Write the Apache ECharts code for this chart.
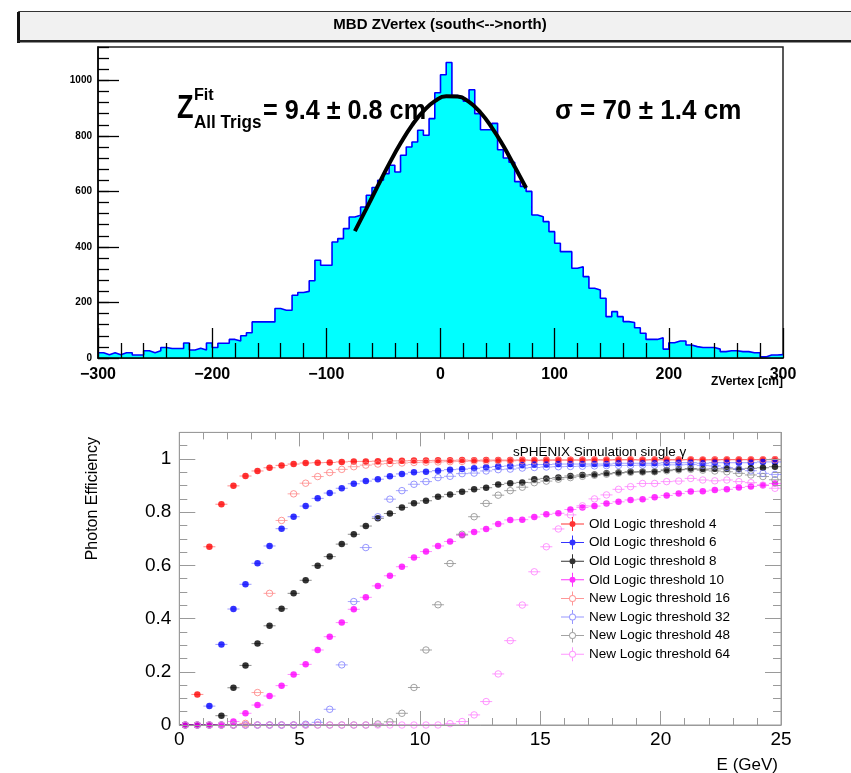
<!DOCTYPE html>
<html><head><meta charset="utf-8">
<script src="https://cdn.jsdelivr.net/npm/echarts@6/dist/echarts.min.js"></script>
<style>html,body{margin:0;padding:0;background:#fff}#c{width:851px;height:773px}</style>
</head><body><div id="c"></div>
<script>
// ---------------- DATA ----------------
// Top panel: MBD z-vertex histogram (5 cm bins from -300 to 300)
const zBinMin = -300;
const zBinWidth = 5;
const zCounts = [19,12,19,12,19,19,11,11,26,19, 26,38,34,34,34,54,29,35,29,54,
  38,53,53,67,61,80,91,130,130,130, 130,178,172,172,226,236,240,278,352,334,
  334,418,430,466,508,514,544,586,614,640, 664,694,670,730,760,778,820,802,862,955,
  1020,1064,945,940,925,966,880,822,822,845, 750,720,705,635,618,600,515,509,491,455,
  413,383,383,323,329,293,251,245,215,149, 167,149,131,128,109,89,67,67,73,32,
  55,61,61,47,41,38,38,38,32,23, 26,26,23,23,19,19,4,11,11,12];
// Gaussian fit curve
const fitZ = [-75,-65,-55,-45,-35,-25,-15,-5,5,15,25,35,45,55,65,75];
const fitCounts = [457,537,619,699,773,838,889,925,943,942,922,884,830,764,689,612];

// Bottom panel: photon efficiency vs E
const eCenters = [0.25,0.75,1.25,1.75,2.25,2.75,3.25,3.75,4.25,4.75,5.25,5.75,6.25,6.75,7.25,7.75,8.25,8.75,9.25,9.75,
  10.25,10.75,11.25,11.75,12.25,12.75,13.25,13.75,14.25,14.75,15.25,15.75,16.25,16.75,17.25,17.75,18.25,18.75,19.25,19.75,
  20.25,20.75,21.25,21.75,22.25,22.75,23.25,23.75,24.25,24.75];
const eHalfWidth = 0.25;
const seriesNames = ['Old Logic threshold 4','Old Logic threshold 6','Old Logic threshold 8','Old Logic threshold 10',
  'New Logic threshold 16','New Logic threshold 32','New Logic threshold 48','New Logic threshold 64'];
const old4 = [0,0.115,0.670,0.830,0.899,0.936,0.955,0.967,0.976,0.981, 0.985,0.986,0.987,0.989,0.991,0.991,0.992,0.993,0.993,0.994,
  0.994,0.995,0.995,0.996,0.995,0.996,0.996,0.996,0.997,0.996, 0.997,0.997,0.997,0.997,0.998,0.997,0.998,0.998,0.997,0.998,
  0.998,0.998,0.998,0.997,0.998,0.998,0.998,0.998,0.998,0.999];
const old6 = [0,0,0.071,0.303,0.436,0.529,0.608,0.673,0.738,0.783, 0.823,0.852,0.872,0.890,0.907,0.917,0.924,0.935,0.944,0.950,
  0.952,0.956,0.960,0.962,0.965,0.969,0.972,0.974,0.977,0.979, 0.979,0.981,0.981,0.981,0.981,0.981,0.984,0.984,0.984,0.984,
  0.986,0.986,0.986,0.984,0.986,0.986,0.986,0.986,0.989,0.989];
const old8 = [0,0,0,0.035,0.140,0.224,0.306,0.373,0.437,0.495, 0.544,0.599,0.633,0.680,0.717,0.748,0.777,0.795,0.818,0.834,
  0.843,0.858,0.867,0.877,0.886,0.892,0.904,0.909,0.912,0.924, 0.927,0.930,0.936,0.940,0.942,0.946,0.949,0.952,0.952,0.952,
  0.959,0.961,0.964,0.962,0.963,0.963,0.962,0.965,0.967,0.971];
const old10 = [0,0,0,0,0.013,0.044,0.075,0.109,0.148,0.190, 0.228,0.282,0.332,0.385,0.435,0.480,0.523,0.561,0.595,0.630,
  0.652,0.673,0.690,0.713,0.726,0.737,0.756,0.771,0.772,0.782, 0.792,0.796,0.810,0.818,0.823,0.833,0.839,0.846,0.849,0.856,
  0.863,0.870,0.878,0.879,0.883,0.886,0.893,0.897,0.901,0.908];
const new16 = [0,0,0,0,0,0.006,0.122,0.495,0.769,0.869, 0.909,0.934,0.949,0.961,0.971,0.977,0.981,0.983,0.985,0.987,
  0.988,0.989,0.990,0.991,0.992,0.992,0.993,0.993,0.994,0.994, 0.994,0.995,0.995,0.995,0.995,0.996,0.996,0.996,0.996,0.996,
  0.996,0.996,0.997,0.997,0.996,0.997,0.997,0.997,0.997,0.997];
const new32 = [0,0,0,0,0,0,0,0,0,0, 0.003,0.010,0.059,0.226,0.464,0.667,0.783,0.849,0.881,0.905,
  0.915,0.930,0.935,0.945,0.947,0.955,0.960,0.962,0.966,0.968, 0.970,0.971,0.972,0.973,0.974,0.975,0.976,0.976,0.977,0.977,
  0.978,0.978,0.979,0.976,0.974,0.968,0.962,0.956,0.946,0.942];
const new48 = [0,0,0,0,0,0,0,0,0,0, 0,0,0,0,0,0,0.004,0.012,0.044,0.141,
  0.282,0.452,0.607,0.717,0.783,0.833,0.864,0.881,0.894,0.911, 0.917,0.924,0.930,0.935,0.939,0.943,0.947,0.950,0.951,0.952,
  0.956,0.959,0.961,0.958,0.955,0.952,0.946,0.940,0.934,0.922];
const new64 = [0,0,0,0,0,0,0,0,0,0, 0,0,0,0,0,0,0,0,0,0,
  0,0,0.005,0.013,0.038,0.088,0.192,0.317,0.451,0.576, 0.670,0.737,0.790,0.824,0.850,0.865,0.886,0.896,0.908,0.908,
  0.915,0.917,0.927,0.921,0.918,0.921,0.915,0.911,0.902,0.890];
const effValues = [old4, old6, old8, old10, new16, new32, new48, new64];

// ---------------- STYLE ----------------
const FONT = '"Liberation Sans", Arial, Helvetica, sans-serif';
const styles = [
  {filled:true,  color:'#ff0000', bar:'rgba(255,0,0,0.45)'},
  {filled:true,  color:'#0000ff', bar:'rgba(0,0,255,0.4)'},
  {filled:true,  color:'#000000', bar:'rgba(0,0,0,0.45)'},
  {filled:true,  color:'#ff00ff', bar:'rgba(255,0,255,0.45)'},
  {filled:false, color:'#ff7d7d', bar:'rgba(255,0,0,0.35)'},
  {filled:false, color:'#7d7dff', bar:'rgba(0,0,255,0.35)'},
  {filled:false, color:'#8c8c8c', bar:'rgba(0,0,0,0.35)'},
  {filled:false, color:'#ff7dff', bar:'rgba(255,0,255,0.4)'}
];
const ICON_FILLED = 'path://M0,6.5h23v1h-23z M11,0h1v14h-1z M14.5,7A3,3 0 1,1 8.5,7A3,3 0 1,1 14.5,7z';
const ICON_OPEN = 'path://M0,6.5h8v1h-8z M15,6.5h8v1h-8z M11,0h1v3.5h-1z M11,10.5h1v3.5h-1z M15,7A3.5,3.5 0 1,1 8,7A3.5,3.5 0 1,1 15,7z M14,7A2.5,2.5 0 1,0 9,7A2.5,2.5 0 1,0 14,7z';

// ---------------- BUILD ----------------
const histPts = zCounts.map((c, i) => [zBinMin + i * zBinWidth, c]);
histPts.push([zBinMin + zCounts.length * zBinWidth, zCounts[zCounts.length - 1]]);
const fitPts = fitZ.map((z, i) => [z, fitCounts[i]]);

const series = [
  {type:'line', xAxisIndex:0, yAxisIndex:0, data:histPts, step:'end', symbol:'none', silent:true, z:2,
   lineStyle:{color:'#0000ff', width:1.6}, areaStyle:{color:'#00ffff', opacity:1}},
  {type:'line', xAxisIndex:0, yAxisIndex:0, data:fitPts, smooth:true, symbol:'none', silent:true, z:3,
   lineStyle:{color:'#000000', width:4}}
];
effValues.forEach((vals, i) => {
  const st = styles[i];
  const pts = eCenters.map((e, j) => [e, vals[j]]);
  series.push({
    type:'custom', name:'err ' + seriesNames[i], xAxisIndex:1, yAxisIndex:2, data:pts, silent:true, z:2 + i * 0.01,
    renderItem: function (params, api) {
      const x = api.value(0), y = api.value(1);
      const a = api.coord([x - eHalfWidth, y]);
      const b = api.coord([x + eHalfWidth, y]);
      return {type:'line', shape:{x1:a[0], y1:a[1], x2:b[0], y2:b[1]}, style:{stroke:st.bar, lineWidth:1}};
    }
  });
  series.push({
    type:'scatter', name:seriesNames[i], xAxisIndex:1, yAxisIndex:2, data:pts, silent:true, clip:false,
    z:3 + i * 0.01, symbol:'circle', symbolSize: 6.5,
    itemStyle: st.filled ? {color:st.color, borderWidth:0}
                         : {color:'rgba(0,0,0,0)', borderColor:st.color, borderWidth:1}
  });
});

const gray = '#9a9a9a';
const option = {
  animation:false,
  backgroundColor:'#ffffff',
  textStyle:{fontFamily:FONT},
  grid:[
    {left:98, top:47, width:685, height:311, show:true, borderColor:'#222', borderWidth:1.5, backgroundColor:'rgba(0,0,0,0)'},
    {left:179.3, top:432.4, width:601.7, height:292.6, show:true, borderColor:gray, borderWidth:1, backgroundColor:'rgba(0,0,0,0)'}
  ],
  xAxis:[
    {gridIndex:0, type:'value', position:'bottom', min:-300, max:300, interval:100, z:10,
     axisLine:{onZero:false, lineStyle:{color:'#000', width:1.5}},
     axisTick:{inside:true, length:30, lineStyle:{color:'#000', width:1.3}},
     minorTick:{show:true, splitNumber:5, length:15, lineStyle:{color:'#000', width:1.3}},
     splitLine:{show:false},
     axisLabel:{margin:9, fontSize:16, fontWeight:'bold', color:'#000', fontFamily:FONT,
       formatter:v => String(v).replace('-', '\u2212')}},
    {gridIndex:1, type:'value', position:'bottom', min:0, max:25, interval:5, z:10,
     axisLine:{onZero:false, lineStyle:{color:gray, width:1}},
     axisTick:{inside:true, length:14, lineStyle:{color:gray}},
     minorTick:{show:true, splitNumber:5, length:7, lineStyle:{color:gray}},
     splitLine:{show:false},
     axisLabel:{margin:5, fontSize:19, color:'#000', fontFamily:FONT}},
    {gridIndex:1, type:'value', position:'top', min:0, max:25, interval:5, z:10,
     axisLine:{onZero:false, lineStyle:{color:gray, width:1}},
     axisTick:{inside:true, length:14, lineStyle:{color:gray}},
     minorTick:{show:true, splitNumber:5, length:7, lineStyle:{color:gray}},
     splitLine:{show:false}, axisLabel:{show:false}}
  ],
  yAxis:[
    {gridIndex:0, type:'value', position:'left', min:0, max:1120, interval:200, z:10,
     axisLine:{show:true, onZero:false, lineStyle:{color:'#000', width:1.5}},
     axisTick:{inside:true, length:21, lineStyle:{color:'#000', width:1.3}},
     splitLine:{show:false},
     axisLabel:{margin:6, fontSize:10, fontWeight:'bold', color:'#000', fontFamily:FONT, showMaxLabel:false,
       formatter:v => String(v)}},
    {gridIndex:0, type:'value', position:'left', min:0, max:1120, interval:40, z:10,
     axisLine:{show:false, onZero:false},
     axisTick:{inside:true, length:11, lineStyle:{color:'#000', width:1.3}},
     splitLine:{show:false}, axisLabel:{show:false}},
    {gridIndex:1, type:'value', position:'left', min:0, max:1.1, interval:0.2, z:10,
     axisLine:{show:true, onZero:false, lineStyle:{color:gray}},
     axisTick:{inside:true, length:16, lineStyle:{color:gray}},
     splitLine:{show:false},
     axisLabel:{margin:8, fontSize:19, color:'#000', fontFamily:FONT, showMaxLabel:false}},
    {gridIndex:1, type:'value', position:'left', min:0, max:1.1, interval:0.05, z:10,
     axisLine:{show:false, onZero:false},
     axisTick:{inside:true, length:8, lineStyle:{color:gray}},
     splitLine:{show:false}, axisLabel:{show:false}},
    {gridIndex:1, type:'value', position:'right', min:0, max:1.1, interval:0.2, z:10,
     axisLine:{show:true, onZero:false, lineStyle:{color:gray}},
     axisTick:{inside:true, length:16, lineStyle:{color:gray}},
     splitLine:{show:false}, axisLabel:{show:false}},
    {gridIndex:1, type:'value', position:'right', min:0, max:1.1, interval:0.05, z:10,
     axisLine:{show:false, onZero:false},
     axisTick:{inside:true, length:8, lineStyle:{color:gray}},
     splitLine:{show:false}, axisLabel:{show:false}}
  ],
  legend:{
    orient:'vertical', left:556, top:512, padding:5, itemWidth:23, itemHeight:14, itemGap:4.6,
    selectedMode:false, textStyle:{fontSize:13.5, color:'#000', fontFamily:FONT},
    itemStyle:{borderWidth:0},
    data: seriesNames.map((n, i) => ({name:n, icon: styles[i].filled ? ICON_FILLED : ICON_OPEN,
      itemStyle:{color:styles[i].color, borderWidth:0}}))
  },
  graphic:[
    {type:'rect', z:0, shape:{x:18.5, y:11.5, width:840, height:29}, style:{fill:'#f1f1f1', stroke:'#333', lineWidth:1}},
    {type:'rect', z:0, shape:{x:17, y:12, width:3, height:31}, style:{fill:'#111'}},
    {type:'rect', z:0, shape:{x:17, y:40, width:842, height:2.5}, style:{fill:'#222'}},
    {type:'text', z:1, style:{text:'MBD ZVertex (south<-->north)', x:440, y:25, align:'center', verticalAlign:'middle',
      font:'bold 15px ' + FONT, fill:'#000'}},
    {type:'text', z:1, x:177, y:108.7, scaleX:0.82, style:{text:'Z', x:0, y:0, align:'left', verticalAlign:'middle',
      font:'bold 33px ' + FONT, fill:'#000'}},
    {type:'text', z:1, x:194, y:95, scaleX:0.95, style:{text:'Fit', x:0, y:0, align:'left', verticalAlign:'middle',
      font:'bold 17px ' + FONT, fill:'#000'}},
    {type:'text', z:1, x:194, y:123, scaleX:0.9, style:{text:'All Trigs', x:0, y:0, align:'left', verticalAlign:'middle',
      font:'bold 19px ' + FONT, fill:'#000'}},
    {type:'text', z:1, x:263, y:111.5, scaleX:0.9, style:{text:'= 9.4 \u00b1 0.8 cm', x:0, y:0, align:'left', verticalAlign:'middle',
      font:'bold 28px ' + FONT, fill:'#000'}},
    {type:'text', z:1, x:555, y:111, scaleX:0.93, style:{text:'\u03c3 = 70 \u00b1 1.4 cm', x:0, y:0, align:'left', verticalAlign:'middle',
      font:'bold 28px ' + FONT, fill:'#000'}},
    {type:'text', z:1, style:{text:'ZVertex [cm]', x:783, y:382, align:'right', verticalAlign:'middle',
      font:'bold 12px ' + FONT, fill:'#000'}},
    {type:'text', z:1, style:{text:'sPHENIX Simulation single \u03b3', x:513, y:452, align:'left', verticalAlign:'middle',
      font:'13.5px ' + FONT, fill:'#000'}},
    {type:'text', z:1, x:93, y:437, rotation:Math.PI / 2, style:{text:'Photon Efficiency', x:0, y:0, align:'right', verticalAlign:'middle',
      font:'16px ' + FONT, fill:'#000'}},
    {type:'text', z:1, style:{text:'E (GeV)', x:778, y:765, align:'right', verticalAlign:'middle',
      font:'17px ' + FONT, fill:'#000'}}
  ],
  series: series
};
const chart = echarts.init(document.getElementById('c'), null, {renderer:'canvas', width:851, height:773});
chart.setOption(option);
</script></body></html>
